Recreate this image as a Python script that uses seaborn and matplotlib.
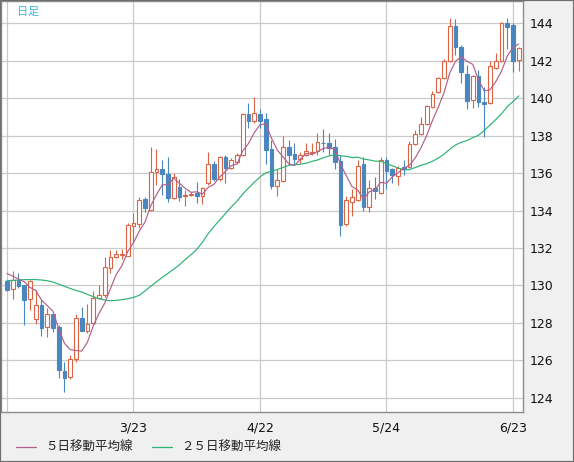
import numpy as np
import pandas as pd
import matplotlib
matplotlib.use("Agg")
import matplotlib.pyplot as plt
import seaborn as sns
from matplotlib.lines import Line2D
from matplotlib.patches import Rectangle

###############################################################################
# Daily candles with 5 and 25 day moving averages.
###############################################################################

opens = [130.23, 129.79, 130.31, 130.00, 129.26, 128.19, 128.95, 127.76, 128.47, 127.76,
         125.43, 125.09, 126.05, 128.24, 127.58, 127.97, 129.31, 129.47, 130.95, 131.50,
         131.62, 131.59, 133.19, 133.28, 134.61, 134.03, 136.04, 136.20, 135.95, 134.65,
         135.24, 134.76, 134.81, 134.92, 134.79, 135.45, 136.48, 135.68, 136.84, 136.29,
         136.57, 136.96, 139.14, 138.80, 139.15, 138.87, 137.27, 135.33, 135.59, 137.37,
         137.02, 136.75, 136.96, 137.09, 137.19, 137.62, 137.59, 137.38, 136.66, 133.26,
         134.44, 134.56, 136.48, 134.20, 135.22, 134.95, 136.70, 136.20, 135.86, 136.34,
         136.31, 137.54, 138.09, 138.62, 139.55, 140.31, 141.06, 141.99, 143.86, 142.72,
         141.29, 139.90, 141.18, 139.78, 139.76, 141.60, 141.99, 144.00, 143.91, 142.04]
highs = [130.30, 130.77, 130.66, 130.02, 130.30, 129.75, 129.20, 128.78, 128.50, 127.90,
         125.92, 126.30, 128.47, 128.86, 128.99, 129.72, 130.02, 131.52, 131.89, 131.89,
         131.95, 133.35, 133.85, 134.70, 134.74, 137.41, 137.28, 136.70, 136.84, 136.00,
         135.67, 135.10, 135.00, 135.50, 135.25, 137.14, 136.66, 136.90, 136.96, 136.80,
         137.05, 139.20, 139.73, 140.05, 139.40, 139.19, 137.77, 136.22, 137.98, 137.77,
         137.59, 137.10, 137.59, 137.60, 138.16, 138.34, 138.16, 137.80, 136.96, 134.77,
         135.13, 136.70, 136.87, 135.63, 135.77, 136.87, 136.85, 136.25, 136.39, 136.70,
         137.70, 138.28, 139.01, 139.64, 140.40, 141.12, 142.08, 144.27, 144.23, 142.84,
         141.77, 141.25, 141.50, 140.58, 142.00, 142.40, 144.05, 144.30, 144.00, 142.75]
lows = [129.70, 129.29, 129.88, 127.88, 128.69, 127.92, 127.31, 127.26, 127.53, 125.04,
        124.32, 125.00, 125.92, 127.55, 127.47, 127.95, 129.25, 129.40, 130.67, 131.45,
        131.40, 131.55, 132.25, 133.05, 133.94, 134.00, 135.36, 134.83, 134.47, 134.60,
        134.52, 134.26, 134.75, 134.42, 134.33, 135.37, 135.58, 135.60, 135.49, 136.20,
        136.50, 136.90, 138.39, 138.66, 138.40, 136.48, 135.13, 134.77, 135.50, 136.43,
        136.48, 136.55, 136.90, 136.95, 136.98, 137.14, 136.98, 136.20, 132.64, 133.20,
        133.71, 134.50, 133.97, 133.90, 134.60, 134.90, 135.13, 135.49, 135.36, 135.90,
        136.25, 137.50, 138.05, 138.58, 139.50, 140.25, 141.00, 141.95, 142.31, 140.79,
        139.41, 139.46, 139.51, 137.91, 139.70, 141.55, 141.95, 142.61, 141.41, 141.47]
closes = [129.75, 130.31, 129.98, 129.20, 130.23, 128.95, 127.74, 128.47, 127.74, 125.50,
          125.07, 126.07, 128.24, 127.58, 127.92, 129.31, 129.47, 130.97, 131.50, 131.68,
          131.68, 133.23, 133.32, 134.56, 134.12, 136.04, 136.20, 135.93, 134.65, 135.80,
          134.70, 134.83, 134.88, 134.79, 135.19, 136.48, 135.67, 136.84, 136.29, 136.70,
          136.95, 139.15, 138.80, 139.19, 138.80, 137.23, 135.31, 135.63, 137.37, 136.96,
          136.75, 136.96, 137.19, 137.14, 137.68, 137.59, 137.32, 136.60, 133.23, 134.56,
          134.70, 136.38, 134.20, 135.19, 135.06, 136.70, 136.13, 135.90, 136.28, 136.22,
          137.55, 138.09, 138.62, 139.58, 140.21, 141.06, 141.99, 143.86, 142.75, 141.38,
          139.87, 141.18, 139.78, 139.71, 141.72, 142.00, 144.00, 143.82, 141.99, 142.66]

# moving average values on the first days (their window starts before the chart)
ma5_head = [130.64, 130.50, 130.34, 130.20]
ma25_head = [130.25, 130.27, 130.29, 130.31, 130.31, 130.31, 130.29, 130.25, 130.18, 130.07,
             129.95, 129.84, 129.73, 129.65, 129.52, 129.40, 129.29, 129.22, 129.18, 129.20,
             129.24, 129.29, 129.36, 129.47]

tick_days = [22, 44, 66, 88]
tick_labels = ["3/23", "4/22", "5/24", "6/23"]
y_ticks = list(range(124, 145, 2))
legend_labels = ["５日移動平均線", "２５日移動平均線"]

UP = "#dc6443"
DOWN = "#4a87c0"
MA5_COLOR = "#b45f8c"
MA25_COLOR = "#2cb274"
W, H = 574, 462

df = pd.DataFrame({"open": opens, "high": highs, "low": lows, "close": closes})
df["day"] = np.arange(len(df))
df["ma5"] = df["close"].rolling(5).mean()
df.loc[:3, "ma5"] = ma5_head
df["ma25"] = df["close"].rolling(25).mean()
df.loc[:23, "ma25"] = ma25_head

sns.set_theme(style="white")
plt.rcParams["font.family"] = ["DejaVu Sans"]

fig = plt.figure(figsize=(W / 100, H / 100), dpi=100)
fig.patch.set_facecolor("#f0f0f0")
ax = fig.add_axes([1 / W, 50 / H, 522 / W, 411 / H])
ax.set_facecolor("white")

up = df[df["close"] >= df["open"]]
down = df[df["close"] < df["open"]]

# wicks
ax.vlines(up["day"], up["low"], up["high"], color=UP, lw=0.8, zorder=2)
ax.vlines(down["day"], down["low"], down["high"], color=DOWN, lw=0.8, zorder=2)
# bodies
ax.bar(up["day"], up["close"] - up["open"], bottom=up["open"], width=0.62,
       facecolor="white", edgecolor=UP, linewidth=0.8, zorder=3)
ax.bar(down["day"], down["open"] - down["close"], bottom=down["close"], width=0.62,
       facecolor=DOWN, edgecolor=DOWN, linewidth=0.8, zorder=3)

sns.lineplot(data=df, x="day", y="ma25", color=MA25_COLOR, lw=0.85, ax=ax, zorder=4)
sns.lineplot(data=df, x="day", y="ma5", color=MA5_COLOR, lw=0.85, ax=ax, zorder=4)

ax.set_xlim(-1.04, 89.74)
ax.set_ylim(123.24, 145.19)
ax.set_xticks(tick_days)
ax.set_xticklabels(tick_labels)
ax.set_yticks(y_ticks)
ax.yaxis.tick_right()
ax.set_xlabel("")
ax.set_ylabel("")
ax.tick_params(axis="both", length=0, labelsize=9, colors="#111111")
ax.tick_params(axis="x", pad=6.5)
ax.tick_params(axis="y", pad=4.5)

# gridlines, including one on the first day
ax.grid(True, color="#cacaca", lw=0.9)
ax.axvline(0, color="#cacaca", lw=0.9, zorder=0.5)
ax.set_axisbelow(True)
for s in ax.spines.values():
    s.set_color("#8c8c8c")
    s.set_linewidth(1.0)

cjk = ["Noto Sans CJK JP", "DejaVu Sans"]
ax.text(16 / 522, 1 - 11 / 411, "日足", transform=ax.transAxes, color="#3db6e8",
        fontsize=8, family=cjk, va="center", ha="left")

# legend along the bottom
ly = 1 - 447 / H
fig.add_artist(Line2D([16 / W, 36 / W], [ly, ly], color=MA5_COLOR, lw=0.9))
fig.text(45 / W, ly, legend_labels[0], family=cjk, fontsize=9, va="center", color="#222222")
fig.add_artist(Line2D([152 / W, 172 / W], [ly, ly], color=MA25_COLOR, lw=0.9))
fig.text(181 / W, ly, legend_labels[1], family=cjk, fontsize=9, va="center", color="#222222")

fig.add_artist(Rectangle((0, 0), 1, 1, transform=fig.transFigure, fill=False,
                         edgecolor="#6e6e6e", lw=1.6))

fig.savefig("out.png", dpi=100, facecolor=fig.get_facecolor())
